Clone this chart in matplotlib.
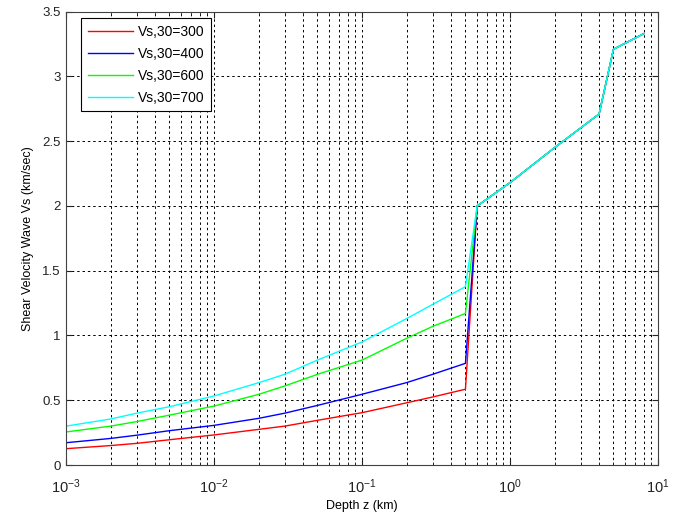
import matplotlib

matplotlib.use("Agg")

import matplotlib.pyplot as plt
import numpy as np
from matplotlib.ticker import LogLocator, NullFormatter

# shallow part, 0.001 .. 0.5 km
depth_shallow = [0.001, 0.002, 0.003, 0.005, 0.01, 0.02, 0.03, 0.05, 0.1, 0.2, 0.3, 0.5]
vs_300 = [0.126, 0.15, 0.167, 0.195, 0.232, 0.275, 0.30, 0.345, 0.404, 0.48, 0.525, 0.585]
vs_400 = [0.172, 0.205, 0.23, 0.265, 0.306, 0.36, 0.40, 0.46, 0.546, 0.636, 0.70, 0.785]
vs_600 = [0.255, 0.30, 0.335, 0.385, 0.455, 0.545, 0.61, 0.70, 0.81, 0.978, 1.07, 1.17]
vs_700 = [0.30, 0.355, 0.40, 0.45, 0.533, 0.635, 0.70, 0.81, 0.95, 1.13, 1.24, 1.377]

# deep part, shared by all profiles
depth_deep = [0.6, 1.0, 2.0, 4.0, 5.0, 8.0]
vs_deep = [2.0, 2.18, 2.45, 2.71, 3.21, 3.33]

labels = ["Vs,30=300", "Vs,30=400", "Vs,30=600", "Vs,30=700"]
colors = ["#ff0000", "#0000ff", "#00ff00", "#00ffff"]

plt.rcParams["font.family"] = ["Liberation Sans", "DejaVu Sans"]
plt.rcParams["font.size"] = 9
plt.rcParams["mathtext.default"] = "regular"

fig = plt.figure(figsize=(6.82, 5.16), dpi=100)
ax = fig.add_axes([66 / 682, 51 / 516, 592 / 682, 453.3 / 516])

for vals, label, color in zip([vs_300, vs_400, vs_600, vs_700], labels, colors):
    z = depth_shallow + depth_deep
    v = vals + vs_deep
    ax.plot(z, v, color=color, linewidth=1.0, label=label)

ax.set_xscale("log")
ax.set_xlim(1e-3, 10)
ax.set_ylim(0, 3.5)
ax.set_yticks(np.arange(0, 3.51, 0.5))
ax.set_yticklabels(["0", "0.5", "1", "1.5", "2", "2.5", "3", "3.5"])
ax.xaxis.set_major_locator(LogLocator(base=10, numticks=10))
ax.xaxis.set_minor_locator(LogLocator(base=10, subs=np.arange(2, 10), numticks=50))
ax.xaxis.set_minor_formatter(NullFormatter())

grid_style = dict(color="black", linestyle=(0, (2.5, 3)), linewidth=0.7)
ax.grid(True, which="major", axis="both", **grid_style)
ax.grid(True, which="minor", axis="x", **grid_style)

ax.tick_params(which="both", direction="in", top=True, right=True, colors="#222222")
ax.tick_params(which="major", length=4)
ax.tick_params(which="minor", length=2)
ax.tick_params(axis="y", labelsize=9.5, pad=4)
ax.tick_params(axis="x", labelsize=10.5, pad=9)
for s in ax.spines.values():
    s.set_color("#404040")
    s.set_linewidth(0.8)

ax.set_xlabel("Depth z (km)", labelpad=3)
ax.set_ylabel("Shear Velocity Wave Vs (km/sec)", labelpad=6)

leg = ax.legend(loc="upper left", bbox_to_anchor=(0.026, 0.985), borderaxespad=0,
                fontsize=10, fancybox=False, framealpha=1, edgecolor="black",
                handlelength=3.3, handletextpad=0.35, borderpad=0.45, labelspacing=0.58)
leg.get_frame().set_linewidth(0.8)

fig.savefig("out.png", dpi=100)
plt.close(fig)
